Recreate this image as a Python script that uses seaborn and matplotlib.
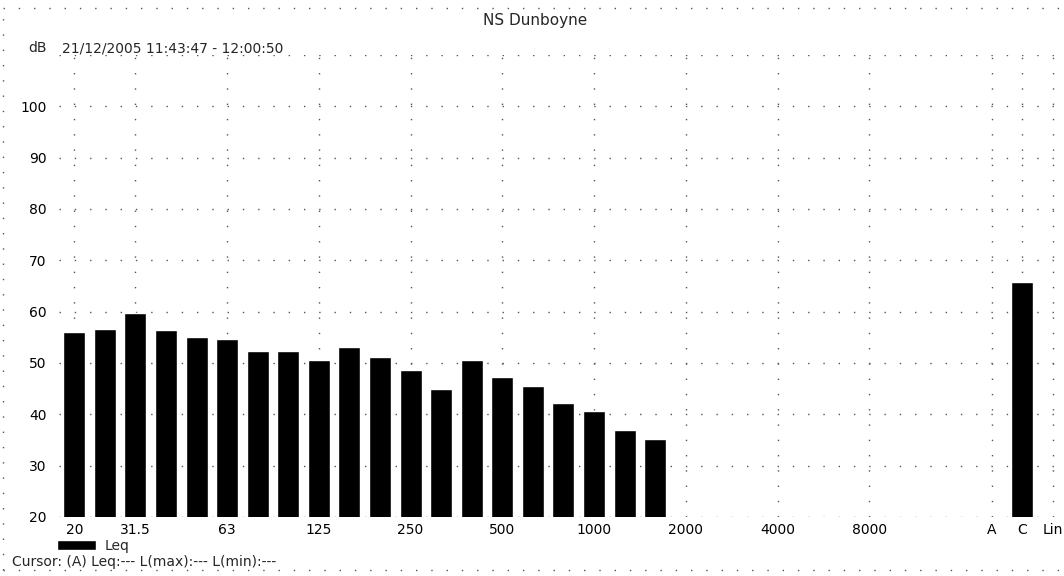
import numpy as np
import pandas as pd
import matplotlib
matplotlib.use("Agg")
import matplotlib.pyplot as plt
from matplotlib.lines import Line2D
import seaborn as sns

# 1/3-octave bands (Hz) followed by the broadband A, C and Lin totals
bands = ["20", "25", "31.5", "40", "50", "63", "80", "100", "125", "160",
         "200", "250", "315", "400", "500", "630", "800", "1000", "1250", "1600",
         "2000", "2500", "3150", "4000", "5000", "6300", "8000", "10000", "12500", "16000",
         "A", "C", "Lin"]
leq = [56.1, 56.6, 59.7, 56.5, 55.0, 54.6, 52.4, 52.4, 50.6, 53.2,
       51.2, 48.7, 44.9, 50.5, 47.2, 45.5, 42.3, 40.7, 37.0, 35.1,
       np.nan, np.nan, np.nan, np.nan, np.nan, np.nan, np.nan, np.nan, np.nan, np.nan,
       np.nan, 65.8, np.nan]

tick_labels = ["20", "31.5", "63", "125", "250", "500", "1000", "2000", "4000", "8000", "A", "C", "Lin"]
y_ticks = [20, 30, 40, 50, 60, 70, 80, 90, 100, 110]

title = "NS Dunboyne"
period = "21/12/2005 11:43:47 - 12:00:50"
cursor_line = "Cursor: (A) Leq:--- L(max):--- L(min):---"

sns.set_theme(style="white")
plt.rcParams["font.family"] = ["DejaVu Sans"]

W, H = 1064, 576
fig = plt.figure(figsize=(W / 100, H / 100), dpi=100)
fig.patch.set_facecolor("white")

ax = fig.add_axes([59 / W, 59 / H, 1005 / W, 462 / H])
ax.set_facecolor("white")

df = pd.DataFrame({"band": bands, "level": leq})
sns.barplot(data=df, x="band", y="level", order=bands, color="black",
            saturation=1, width=0.72, label="Leq", ax=ax, zorder=3)

ax.set_xlim(-0.5, 32.37)
ax.set_ylim(20, 110)

tick_pos = [bands.index(t) for t in tick_labels]
ax.set_xticks(tick_pos)
ax.set_xticklabels(tick_labels, fontsize=10)
ax.set_yticks(y_ticks)
ax.set_yticklabels([str(v) if v < 110 else "" for v in y_ticks], fontsize=10)
ax.tick_params(axis="both", length=0, colors="black")
ax.tick_params(axis="y", pad=9)
ax.tick_params(axis="x", pad=4)
ax.set_xlabel("")
ax.set_ylabel("")

# sparse dotted grid
ax.grid(True, color="#555555", linewidth=1.0, linestyle=(0, (1, 10)), zorder=0)
for s in ax.spines.values():
    s.set_visible(False)

# dotted frame around the page
frame_style = dict(color="#555555", linewidth=1.0, linestyle=(0, (1, 10)),
                   transform=fig.transFigure)
x0, x1 = 3 / W, 1061 / W
y0, y1 = (H - 570) / H, (H - 8) / H
fig.add_artist(Line2D([x0, x0], [y0, y1], **frame_style))
fig.add_artist(Line2D([x0, x1], [y0, y0], **frame_style))
fig.add_artist(Line2D([x0, x1], [y1, y1], **frame_style))

# header texts
fig.text(535 / W, (H - 20) / H, title, ha="center", va="center", fontsize=11)
fig.text(47 / W, (H - 48) / H, "dB", ha="right", va="center", fontsize=10)
fig.text(62 / W, (H - 48) / H, period, ha="left", va="center", fontsize=10)

# legend
ax.legend(loc="upper left", bbox_to_anchor=(57 / W, (H - 539) / H),
          bbox_transform=fig.transFigure, frameon=False, fontsize=10,
          handlelength=2.8, handleheight=0.8, handletextpad=0.6, borderpad=0,
          borderaxespad=0)

fig.text(12 / W, (H - 562) / H, cursor_line, ha="left", va="center", fontsize=10)

fig.savefig("out.png", dpi=100, facecolor="white")
